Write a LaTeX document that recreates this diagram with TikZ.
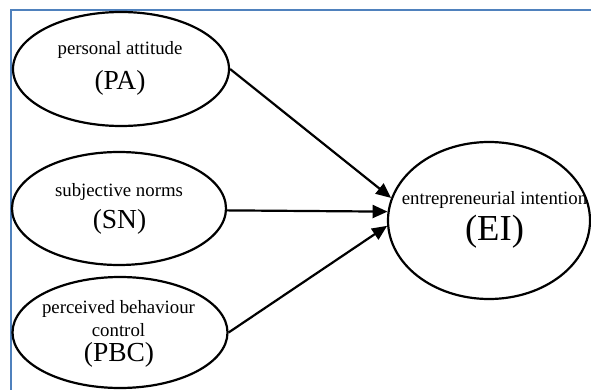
\documentclass[tikz,border=0pt]{standalone}
\usepackage{fontspec}
\setmainfont{Liberation Serif}
\usetikzlibrary{shapes.geometric,arrows.meta}
\definecolor{frameblue}{RGB}{79,129,189}
\tikzset{
  oval/.style={draw=black, line width=2.2pt, ellipse, inner sep=0pt, fill=white},
  smalltxt/.style={inner sep=0pt, font=\fontsize{18.8}{22}\selectfont},
  abbr/.style={inner sep=0pt, font=\fontsize{27.5}{32}\selectfont},
  bigabbr/.style={inner sep=0pt, font=\fontsize{36.6}{42}\selectfont},
  link/.style={draw=black, line width=2.2pt, -{Triangle[length=15pt,width=13pt]}},
  frame/.style={draw=frameblue, line width=2pt}
}
\begin{document}
\begin{tikzpicture}[x=1pt,y=-1pt]
\useasboundingbox (0,0) rectangle (591,390);
\fill[white] (0,0) rectangle (591,390);
\draw[frame] (11,391) -- (11,10) -- (592,10);

\node[oval, minimum width=216pt, minimum height=114pt] (pa) at (121,69) {};
\node[oval, minimum width=214pt, minimum height=113pt] (sn) at (119,208.5) {};
\node[oval, minimum width=215pt, minimum height=111pt] (pbc) at (120,332.5) {};
\node[oval, minimum width=202pt, minimum height=157pt] (ei) at (489,220.5) {};

\node[smalltxt] (pa1) at (120,50) {personal attitude};
\node[abbr] (pa2) at (120,83) {(PA)};
\node[smalltxt] (sn1) at (119,192) {subjective norms};
\node[abbr] (sn2) at (119.5,222) {(SN)};
\node[smalltxt] (pbc1) at (118.5,309) {perceived behaviour};
\node[smalltxt] (pbc2) at (118.5,330) {control};
\node[abbr] (pbc3) at (119,355) {(PBC)};
\node[smalltxt] (ei1) at (494.5,200) {entrepreneurial intention};
\node[bigabbr] (ei2) at (494.5,232) {(EI)};

\draw[link] (pa.east) -- (ei.167);
\draw[link] (sn.-1.7) -- (ei.175);
\draw[link] (pbc.east) -- (ei.183);
\end{tikzpicture}
\end{document}
